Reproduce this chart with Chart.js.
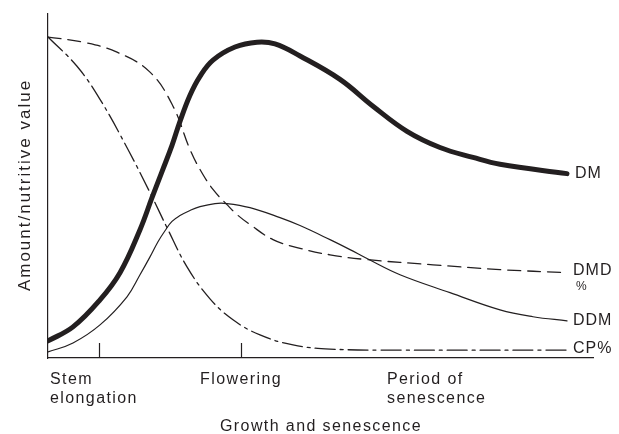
<!DOCTYPE html>
<html>
<head>
<meta charset="utf-8">
<script src="https://cdn.jsdelivr.net/npm/chart.js@4/dist/chart.umd.min.js"></script>
<style>
  html, body { margin: 0; padding: 0; background: #fff; }
  #wrap { width: 619px; height: 434px; position: relative; }
</style>
</head>
<body>
<div id="wrap"><canvas id="growth"></canvas></div>
<script>
// growth stage on x (0..109), amount / nutritive value on y (0..100)
const dmX = [0, 5, 10.4, 14.4, 18.4, 20.8, 22.8, 24.8, 26.4, 28.4, 30.4, 33, 37.4, 41.8, 45.4, 50.4, 58.4, 65, 71.8, 78.4, 85, 90.4, 103.8];
const dmY = [4.96, 9.04, 16.9, 24.8, 37.3, 46.6, 54.2, 61.8, 68.8, 76.4, 81.9, 86.6, 90.4, 91.8, 91.3, 87.8, 81.0, 73.2, 65.9, 61.2, 58.3, 56.3, 53.6];

const dmdX = [0, 7, 13.8, 20.4, 25, 28.4, 30.4, 33, 35.8, 37.8, 40.4, 45, 49.8, 56.4, 63.8, 77, 90.4, 103.8];
const dmdY = [93.3, 91.8, 88.9, 83.1, 73.2, 60.6, 54.8, 49.0, 44.6, 41.7, 38.8, 34.4, 32.1, 30.0, 28.6, 27.1, 25.7, 24.8];

const ddmX = [0, 5, 10.4, 15.8, 18.4, 20.4, 22, 23.4, 24.8, 26.4, 28.4, 30.4, 33.4, 35.8, 40.4, 46.4, 50.4, 56.4, 60.4, 63.8, 70.4, 80.4, 90.4, 97, 103.8];
const ddmY = [1.75, 4.37, 9.62, 17.8, 24.2, 29.4, 33.8, 37.0, 39.7, 41.4, 42.9, 44.0, 44.9, 44.9, 43.7, 40.8, 38.5, 34.4, 31.5, 28.9, 24.2, 19.0, 14.0, 12.0, 10.8];

const cpX = [0, 5.8, 10.4, 16, 20.8, 23.8, 27.8, 32.4, 37, 42.4, 49, 56.4, 70.4, 103.8];
const cpY = [93.3, 84.8, 75.2, 60.6, 46.9, 37.9, 26.5, 17.2, 11.1, 6.7, 3.8, 2.6, 2.3, 2.3];

const stageTicks = [10.2, 38.6];
const stageLabels = [['Stem', 'elongation'], ['Flowering'], ['Period of', 'senescence']];
const stageLabelX = [0.4, 38.6, 67.8];
const seriesNames = ['DM', 'DMD', 'DDM', 'CP%'];

const INK = '#231f20';
const FONT = '"Liberation Sans", Arial, sans-serif';

function pts(xs, ys) {
  return xs.map((x, i) => ({ x: x, y: ys[i] }));
}

const annotate = {
  id: 'annotate',
  afterDraw(chart) {
    const ctx = chart.ctx;
    const xs = chart.scales.x;
    const ys = chart.scales.y;
    const base = ys.getPixelForValue(0);
    ctx.save();
    ctx.strokeStyle = INK;
    ctx.lineWidth = 1.2;
    stageTicks.forEach((v) => {
      const px = Math.round(xs.getPixelForValue(v)) + 0.5;
      ctx.beginPath();
      ctx.moveTo(px, base);
      ctx.lineTo(px, base - 15);
      ctx.stroke();
    });

    ctx.fillStyle = INK;
    ctx.font = '16px ' + FONT;
    ctx.letterSpacing = '1.4px';
    ctx.textBaseline = 'alphabetic';
    stageLabels.forEach((lines, i) => {
      const px = xs.getPixelForValue(stageLabelX[i]);
      ctx.textAlign = i === 1 ? 'center' : 'left';
      lines.forEach((t, j) => ctx.fillText(t, px, base + 26 + j * 19));
    });

    ctx.textAlign = 'center';
    ctx.fillText('Growth and senescence', 321, 431);

    // series names at the right end of each curve
    const endX = xs.getPixelForValue(dmX[dmX.length - 1]) + 6;
    ctx.letterSpacing = '1px';
    ctx.textAlign = 'left';
    ctx.textBaseline = 'middle';
    ctx.fillText(seriesNames[0], endX + 2, ys.getPixelForValue(dmY[dmY.length - 1]));
    ctx.fillText(seriesNames[1], endX, ys.getPixelForValue(dmdY[dmdY.length - 1]) - 2);
    ctx.fillText(seriesNames[2], endX, ys.getPixelForValue(ddmY[ddmY.length - 1]));
    ctx.fillText(seriesNames[3], endX, ys.getPixelForValue(cpY[cpY.length - 1]) - 1);
    ctx.font = '12px ' + FONT;
    ctx.letterSpacing = '0px';
    ctx.fillText('%', endX + 3, ys.getPixelForValue(dmdY[dmdY.length - 1]) + 14);

    ctx.font = '17px ' + FONT;
    ctx.letterSpacing = '2px';
    ctx.textAlign = 'center';
    ctx.textBaseline = 'alphabetic';
    ctx.translate(30, 185);
    ctx.rotate(-Math.PI / 2);
    ctx.fillText('Amount/nutritive value', 0, 0);
    ctx.restore();
  }
};

const canvas = document.getElementById('growth');
new Chart(canvas, {
  type: 'line',
  data: {
    datasets: [
      { label: 'DM', data: pts(dmX, dmY), borderColor: INK, borderWidth: 5 },
      { label: 'DMD %', data: pts(dmdX, dmdY), borderColor: INK, borderWidth: 1.3, borderDash: [13, 7] },
      { label: 'DDM', data: pts(ddmX, ddmY), borderColor: INK, borderWidth: 1.2 },
      { label: 'CP%', data: pts(cpX, cpY), borderColor: INK, borderWidth: 1.3, borderDash: [20, 5, 3, 5] }
    ]
  },
  options: {
    responsive: true,
    maintainAspectRatio: false,
    animation: false,
    layout: { padding: { left: 48, right: 26, top: 14, bottom: 76 } },
    elements: {
      point: { radius: 0 },
      line: { tension: 0.4, fill: false, capBezierPoints: true, borderCapStyle: 'round' }
    },
    plugins: { legend: { display: false }, tooltip: { enabled: false } },
    scales: {
      x: {
        type: 'linear', min: 0, max: 109,
        grid: { display: false, drawTicks: false },
        border: { display: true, color: INK, width: 1.2 },
        ticks: { display: false }
      },
      y: {
        min: 0, max: 100,
        grid: { display: false, drawTicks: false },
        border: { display: true, color: INK, width: 1.2 },
        ticks: { display: false }
      }
    }
  },
  plugins: [annotate]
});
</script>
</body>
</html>
